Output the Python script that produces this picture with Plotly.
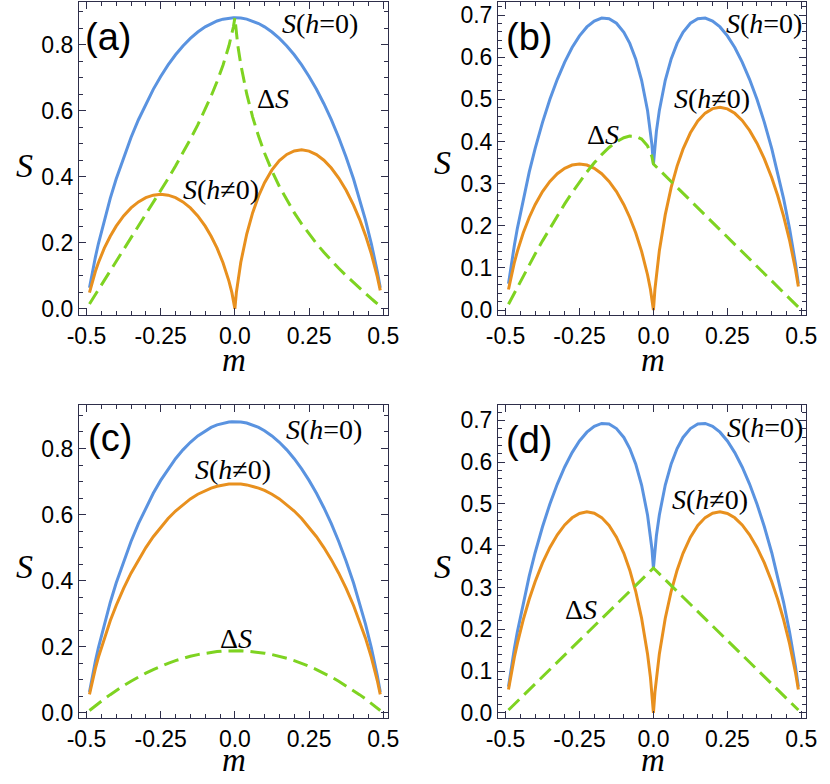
import plotly.graph_objects as go

# magnetisation grid
m = [-0.49, -0.48, -0.47, -0.46, -0.44, -0.42, -0.40, -0.375, -0.35, -0.325, -0.30, -0.275, -0.25,
     -0.225, -0.20, -0.175, -0.15, -0.125, -0.10, -0.08, -0.06, -0.04, -0.02, -0.01, -0.005, 0.0,
     0.005, 0.01, 0.02, 0.04, 0.06, 0.08, 0.10, 0.125, 0.15, 0.175, 0.20, 0.225, 0.25, 0.275,
     0.30, 0.325, 0.35, 0.375, 0.40, 0.42, 0.44, 0.46, 0.47, 0.48, 0.49]

# (a)
blue_a = [0.0635, 0.1128, 0.1567, 0.1969, 0.2695, 0.3342, 0.3929, 0.4592, 0.5187, 0.5725, 0.6209, 0.6645, 0.7035,
          0.7384, 0.7691, 0.7958, 0.8189, 0.8381, 0.8538, 0.8638, 0.8715, 0.8770, 0.8804, 0.8811, 0.8813, 0.8814,
          0.8813, 0.8811, 0.8804, 0.8770, 0.8715, 0.8638, 0.8538, 0.8381, 0.8189, 0.7958, 0.7691, 0.7384, 0.7035,
          0.6645, 0.6209, 0.5725, 0.5187, 0.4592, 0.3929, 0.3342, 0.2695, 0.1969, 0.1567, 0.1128, 0.0635]
orange_a = [0.0490, 0.0840, 0.1135, 0.1394, 0.1835, 0.2198, 0.2502, 0.2812, 0.3054, 0.3237, 0.3365, 0.3441, 0.3466,
            0.3441, 0.3365, 0.3237, 0.3054, 0.2812, 0.2502, 0.2198, 0.1835, 0.1394, 0.0840, 0.0490, 0.0280, 0.0,
            0.0491, 0.0844, 0.1411, 0.2265, 0.2910, 0.3416, 0.3819, 0.4206, 0.4486, 0.4674, 0.4780, 0.4812, 0.4774,
            0.4669, 0.4499, 0.4263, 0.3961, 0.3589, 0.3140, 0.2718, 0.2231, 0.1663, 0.1338, 0.0976, 0.0559]
green_a = [0.0145, 0.0288, 0.0432, 0.0575, 0.0860, 0.1144, 0.1427, 0.1780, 0.2133, 0.2488, 0.2844, 0.3204, 0.3569,
           0.3943, 0.4326, 0.4721, 0.5135, 0.5569, 0.6036, 0.6440, 0.6880, 0.7376, 0.7964, 0.8321, 0.8533, 0.8814,
           0.8322, 0.7967, 0.7393, 0.6505, 0.5805, 0.5222, 0.4719, 0.4175, 0.3703, 0.3284, 0.2911, 0.2572, 0.2261,
           0.1976, 0.1710, 0.1462, 0.1226, 0.1003, 0.0789, 0.0624, 0.0464, 0.0306, 0.0229, 0.0152, 0.0076]

# (b)
blue_b = [0.0628, 0.1115, 0.1546, 0.1940, 0.2647, 0.3273, 0.3833, 0.4455, 0.5001, 0.5476, 0.5885, 0.6229, 0.6507,
          0.6718, 0.6859, 0.6927, 0.6912, 0.6805, 0.6592, 0.6327, 0.5960, 0.5453, 0.4738, 0.4240, 0.3922, 0.3466,
          0.3922, 0.4240, 0.4738, 0.5453, 0.5960, 0.6327, 0.6592, 0.6805, 0.6912, 0.6927, 0.6859, 0.6718, 0.6507,
          0.6229, 0.5885, 0.5476, 0.5001, 0.4455, 0.3833, 0.3273, 0.2647, 0.1940, 0.1546, 0.1115, 0.0628]
orange_b = orange_a
green_b = [0.0138, 0.0275, 0.0411, 0.0546, 0.0812, 0.1075, 0.1331, 0.1643, 0.1947, 0.2239, 0.2520, 0.2788, 0.3041,
           0.3277, 0.3494, 0.3690, 0.3858, 0.3993, 0.4090, 0.4129, 0.4125, 0.4059, 0.3898, 0.3750, 0.3642, 0.3466,
           0.3431, 0.3396, 0.3327, 0.3188, 0.3050, 0.2911, 0.2773, 0.2599, 0.2426, 0.2253, 0.2079, 0.1906, 0.1733,
           0.1560, 0.1386, 0.1213, 0.1040, 0.0866, 0.0693, 0.0555, 0.0416, 0.0277, 0.0208, 0.0139, 0.0069]

# (c)
blue_c = blue_a
orange_c = [0.0560, 0.0980, 0.1348, 0.1680, 0.2270, 0.2788, 0.3251, 0.3768, 0.4227, 0.4638, 0.5004, 0.5332, 0.5623,
            0.5882, 0.6109, 0.6306, 0.6475, 0.6616, 0.6730, 0.6803, 0.6859, 0.6899, 0.6924, 0.6929, 0.6931, 0.6931,
            0.6931, 0.6929, 0.6924, 0.6899, 0.6859, 0.6803, 0.6730, 0.6616, 0.6475, 0.6306, 0.6109, 0.5882, 0.5623,
            0.5332, 0.5004, 0.4638, 0.4227, 0.3768, 0.3251, 0.2788, 0.2270, 0.1680, 0.1348, 0.0980, 0.0560]
green_c = [0.0075, 0.0148, 0.0219, 0.0289, 0.0425, 0.0554, 0.0678, 0.0824, 0.0960, 0.1087, 0.1205, 0.1313, 0.1412,
           0.1502, 0.1582, 0.1652, 0.1714, 0.1765, 0.1808, 0.1835, 0.1856, 0.1871, 0.1880, 0.1882, 0.1883, 0.1883,
           0.1883, 0.1882, 0.1880, 0.1871, 0.1856, 0.1835, 0.1808, 0.1765, 0.1714, 0.1652, 0.1582, 0.1502, 0.1412,
           0.1313, 0.1205, 0.1087, 0.0960, 0.0824, 0.0678, 0.0554, 0.0425, 0.0289, 0.0219, 0.0148, 0.0075]

# (d)
blue_d = blue_b
orange_d = [0.0559, 0.0976, 0.1338, 0.1663, 0.2231, 0.2718, 0.3140, 0.3589, 0.3961, 0.4263, 0.4499, 0.4669, 0.4774,
            0.4812, 0.4780, 0.4674, 0.4486, 0.4206, 0.3819, 0.3416, 0.2910, 0.2265, 0.1411, 0.0844, 0.0491, 0.0,
            0.0491, 0.0844, 0.1411, 0.2265, 0.2910, 0.3416, 0.3819, 0.4206, 0.4486, 0.4674, 0.4780, 0.4812, 0.4774,
            0.4669, 0.4499, 0.4263, 0.3961, 0.3589, 0.3140, 0.2718, 0.2231, 0.1663, 0.1338, 0.0976, 0.0559]
green_d = [0.0069, 0.0139, 0.0208, 0.0277, 0.0416, 0.0555, 0.0693, 0.0866, 0.1040, 0.1213, 0.1386, 0.1560, 0.1733,
           0.1906, 0.2079, 0.2253, 0.2426, 0.2599, 0.2773, 0.2911, 0.3050, 0.3188, 0.3327, 0.3396, 0.3431, 0.3466,
           0.3431, 0.3396, 0.3327, 0.3188, 0.3050, 0.2911, 0.2773, 0.2599, 0.2426, 0.2253, 0.2079, 0.1906, 0.1733,
           0.1560, 0.1386, 0.1213, 0.1040, 0.0866, 0.0693, 0.0555, 0.0416, 0.0277, 0.0208, 0.0139, 0.0069]

x_ticks = [-0.5, -0.25, 0.0, 0.25, 0.5]
x_ticktext = ['-0.5', '-0.25', '0.0', '0.25', '0.5']
y_ticks_ac = [0.0, 0.2, 0.4, 0.6, 0.8]
y_ticks_bd = [0.0, 0.1, 0.2, 0.3, 0.4, 0.5, 0.6, 0.7]

BLUE = '#5a93e0'
ORANGE = '#e8901e'
GREEN = '#7ed321'
FRAME = '#2e2e4a'

panels = [
    ('', blue_a, orange_a, green_a),
    ('2', blue_b, orange_b, green_b),
    ('3', blue_c, orange_c, green_c),
    ('4', blue_d, orange_d, green_d),
]

fig = go.Figure()

for ax, blue, orange, green in panels:
    fig.add_trace(go.Scatter(x=m, y=blue, mode='lines', line=dict(color=BLUE, width=3),
                             xaxis='x' + ax, yaxis='y' + ax, showlegend=False))
    fig.add_trace(go.Scatter(x=m, y=orange, mode='lines', line=dict(color=ORANGE, width=3),
                             xaxis='x' + ax, yaxis='y' + ax, showlegend=False))
    fig.add_trace(go.Scatter(x=m, y=green, mode='lines', line=dict(color=GREEN, width=3, dash='15px,7px'),
                             xaxis='x' + ax, yaxis='y' + ax, showlegend=False))

tick_font = dict(family='Liberation Sans, Arial', size=23, color='black')


def xaxis(domain, anchor):
    return dict(domain=domain, anchor=anchor, range=[-0.525, 0.517],
                tickmode='array', tickvals=x_ticks, ticktext=x_ticktext,
                ticks='inside', ticklen=7, tickwidth=1, tickcolor=FRAME,
                minor=dict(tickmode='linear', tick0=0, dtick=0.05, ticks='inside', ticklen=4, tickcolor=FRAME),
                showline=True, linecolor=FRAME, linewidth=1.3, mirror='ticks',
                showgrid=False, zeroline=False, tickfont=tick_font)


def yaxis(domain, anchor, rng, vals, minor_step):
    return dict(domain=domain, anchor=anchor, range=rng,
                tickmode='array', tickvals=vals, ticktext=['%.1f' % v for v in vals],
                ticks='inside', ticklen=7, tickwidth=1, tickcolor=FRAME,
                minor=dict(tickmode='linear', tick0=0, dtick=minor_step, ticks='inside', ticklen=4, tickcolor=FRAME),
                showline=True, linecolor=FRAME, linewidth=1.3, mirror='ticks',
                showgrid=False, zeroline=False, tickfont=tick_font)


xl = [69 / 830, 387 / 830]
xr = [500 / 830, 817 / 830]
yt = [(784 - 318) / 784, (784 - 2) / 784]
yb = [(784 - 725.3) / 784, (784 - 408.7) / 784]

fig.update_layout(
    width=830, height=784, autosize=False,
    margin=dict(l=0, r=0, t=0, b=0),
    paper_bgcolor='white', plot_bgcolor='white',
    xaxis=xaxis(xl, 'y'), yaxis=yaxis(yt, 'x', [-0.018, 0.929], y_ticks_ac, 0.05),
    xaxis2=xaxis(xr, 'y2'), yaxis2=yaxis(yt, 'x2', [-0.011, 0.731], y_ticks_bd, 0.02),
    xaxis3=xaxis(xl, 'y3'), yaxis3=yaxis(yb, 'x3', [-0.015, 0.933], y_ticks_ac, 0.05),
    xaxis4=xaxis(xr, 'y4'), yaxis4=yaxis(yb, 'x4', [-0.012, 0.738], y_ticks_bd, 0.02),
)

serif = 'Liberation Serif, Times New Roman, serif'
sans = 'Liberation Sans, Arial, sans-serif'
lab = 28

notes = [
    # panel letters
    ('x', 'y', -0.428, 0.824, '(a)', sans, 38),
    ('x2', 'y2', -0.420, 0.649, '(b)', sans, 38),
    ('x3', 'y3', -0.420, 0.833, '(c)', sans, 38),
    ('x4', 'y4', -0.420, 0.654, '(d)', sans, 38),
    # curve labels
    ('x', 'y', 0.287, 0.863, '<i>S</i>(<i>h</i>=0)', serif, lab),
    ('x', 'y', 0.130, 0.638, 'Δ<i>S</i>', serif, lab),
    ('x', 'y', -0.046, 0.360, '<i>S</i>(<i>h</i>≠0)', serif, lab),
    ('x2', 'y2', 0.374, 0.681, '<i>S</i>(<i>h</i>=0)', serif, lab),
    ('x2', 'y2', 0.197, 0.503, '<i>S</i>(<i>h</i>≠0)', serif, lab),
    ('x2', 'y2', -0.170, 0.416, 'Δ<i>S</i>', serif, lab),
    ('x3', 'y3', 0.302, 0.857, '<i>S</i>(<i>h</i>=0)', serif, lab),
    ('x3', 'y3', -0.007, 0.737, '<i>S</i>(<i>h</i>≠0)', serif, lab),
    ('x3', 'y3', 0.003, 0.225, 'Δ<i>S</i>', serif, lab),
    ('x4', 'y4', 0.377, 0.682, '<i>S</i>(<i>h</i>=0)', serif, lab),
    ('x4', 'y4', 0.190, 0.511, '<i>S</i>(<i>h</i>≠0)', serif, lab),
    ('x4', 'y4', -0.246, 0.248, 'Δ<i>S</i>', serif, lab),
]
for xr_, yr_, x, y, txt, fam, size in notes:
    fig.add_annotation(xref=xr_, yref=yr_, x=x, y=y, text=txt, showarrow=False,
                       xanchor='center', yanchor='middle', font=dict(family=fam, size=size, color='black'))

# axis titles
for x, y in [(0.0157, 0.787), (0.5337, 0.790), (0.0157, 0.270), (0.5337, 0.270)]:
    fig.add_annotation(xref='paper', yref='paper', x=x, y=y, text='<i>S</i>', showarrow=False,
                       xanchor='center', yanchor='middle', font=dict(family=serif, size=34, color='black'))
for x, y in [(0.2747, 0.536), (0.794, 0.536), (0.2747, 0.0205), (0.794, 0.0205)]:
    fig.add_annotation(xref='paper', yref='paper', x=x, y=y, text='<i>m</i>', showarrow=False,
                       xanchor='center', yanchor='middle', font=dict(family=serif, size=33, color='black'))

# drop the default body margin so the figure sits at the page corner
fig.write_html("out.html", config={'displayModeBar': False},
               post_script="document.body.style.margin='0';")
